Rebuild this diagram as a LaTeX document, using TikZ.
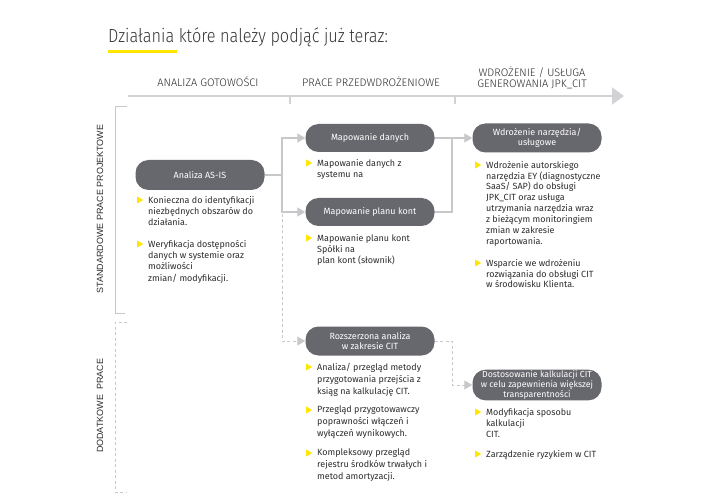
\documentclass[tikz,border=0pt]{standalone}
\usepackage{fontspec}
\setmainfont{Fira Sans}
\newfontfamily\thinfont{Fira Sans Light}[FakeStretch=0.86]
\newfontfamily\hdrfont{Fira Sans Light}
\newfontfamily\sidefont{Liberation Sans}
\usepackage{tikz}
\usetikzlibrary{shapes.geometric, arrows.meta}
\definecolor{boxgray}{RGB}{103,103,110}
\definecolor{linegray}{RGB}{200,200,202}
\definecolor{axisgray}{RGB}{210,210,212}
\definecolor{textgray}{RGB}{45,45,48}
\definecolor{titlegray}{RGB}{55,55,58}
\definecolor{eyyellow}{RGB}{255,230,0}
\tikzset{
	stage/.style={rectangle, rounded corners=13bp, minimum width=129bp, minimum height=29bp, text centered, align=center, fill=boxgray, text=white, inner sep=1bp, font=\fontsize{9}{10}\selectfont},
	bullet/.style={anchor=north west, align=left, inner sep=0pt, text=textgray, font=\fontsize{9}{11.3}\selectfont},
	ymark/.style={isosceles triangle, isosceles triangle stretches, minimum width=7bp, minimum height=6bp, inner sep=0pt, fill=eyyellow, anchor=west},
	phase/.style={align=center, inner sep=0pt, text=textgray, font=\hdrfont\fontsize{11}{11.5}\selectfont},
	side/.style={rotate=90, inner sep=0pt, text=textgray, font=\sidefont\fontsize{9}{11}\selectfont},
	link/.style={line width=1.3bp, draw=linegray},
	arrow/.style={link, -{Triangle[length=8bp, width=9bp]}},
	dasharrow/.style={arrow, line width=0.9bp, dash pattern=on 3bp off 2.5bp}
}

\begin{document}
\begin{tikzpicture}[x=1bp, y=-1bp]
	\useasboundingbox[fill=white] (0,0) rectangle (720,500);
	
	% Title and time axis
	\node (title) [anchor=base west, inner sep=0pt, text=titlegray, font=\thinfont\fontsize{19}{21}\selectfont] at (108,43) {Działania które należy podjąć już teraz:};
	\draw [eyyellow, line width=3bp] (108,52) -- (177,52);
	\node (ph1) [phase, anchor=base] at (208,87) {ANALIZA GOTOWOŚCI};
	\node (ph2) [phase, anchor=base] at (371,87) {PRACE PRZEDWDROŻENIOWE};
	\node (ph3) [phase] at (532,78) {WDROŻENIE / USŁUGA\\GENEROWANIA JPK\_CIT};
	\coordinate (axis0) at (128,96);
	\coordinate (axis1) at (624,96);
	\draw [axisgray, line width=2bp, -{Triangle[length=12bp, width=17bp]}] (axis0) -- (axis1);
	\draw [axisgray, line width=1.5bp] (290,96) -- (290,104);
	\draw [axisgray, line width=1.5bp] (455,96) -- (455,104);
	
	% Side groups
	\draw [linegray, line width=1bp] (127,107) -- (115,107) -- (115,313) -- (125,313);
	\draw [linegray, line width=1bp, dash pattern=on 3bp off 2.5bp] (127,322) -- (115,322) -- (115,492) -- (127,492);
	\node (std) [side] at (100,209) {STANDARDOWE PRACE PROJEKTOWE};
	\node (dod) [side] at (100,406) {DODATKOWE~~PRACE};
	
	% Nodes
	\node (asis) [stage, minimum height=30bp] at (200,175) {Analiza AS-IS};
	\node (mapdan) [stage, minimum height=28bp] at (370,138) {Mapowanie danych};
	\node (mapplan) [stage, minimum height=28bp] at (370,212) {Mapowanie planu kont};
	\node (rozsz) [stage] at (370,341) {Rozszerzona analiza\\w zakresie CIT};
	\node (wdroz) [stage] at (537,138) {Wdrożenie narzędzia/\\usługowe};
	\node (dostos) [stage, minimum height=27bp, font=\fontsize{8.8}{10}\selectfont] at (537,385) {Dostosowanie kalkulacji CIT\\w celu zapewnienia większej\\transparentności};
	
	% Bullets
	\node (asis1) [bullet] at (148,196) {Konieczna do identyfikacji\\niezbędnych obszarów do\\działania.};
	\node (asis2) [bullet] at (148,240) {Weryfikacja dostępności\\danych w systemie oraz\\możliwości\\zmian/ modyfikacji.};
	\node (mapdan1) [bullet] at (317,159) {Mapowanie danych z\\systemu na};
	\node (mapplan1) [bullet] at (317,234) {Mapowanie planu kont\\Spółki na\\plan kont (słownik)};
	\node (wdroz1) [bullet, font=\fontsize{9}{10.9}\selectfont] at (486,161) {Wdrożenie autorskiego\\narzędzia EY (diagnostyczne\\SaaS/ SAP) do obsługi\\JPK\_CIT oraz usługa\\utrzymania narzędzia wraz\\z bieżącym monitoringiem\\zmian w zakresie\\raportowania.};
	\node (wdroz2) [bullet, font=\fontsize{9}{10.9}\selectfont] at (486,259) {Wsparcie we wdrożeniu\\rozwiązania do obsługi CIT\\w środowisku Klienta.};
	\node (rozsz1) [bullet, font=\fontsize{9}{12}\selectfont] at (317,363) {Analiza/ przegląd metody\\przygotowania przejścia z\\ksiąg na kalkulację CIT.};
	\node (rozsz2) [bullet, font=\fontsize{9}{12}\selectfont] at (317,406) {Przegląd przygotowawczy\\poprawności włączeń i\\wyłączeń wynikowych.};
	\node (rozsz3) [bullet, font=\fontsize{9}{12}\selectfont] at (317,449) {Kompleksowy przegląd\\rejestru środków trwałych i\\metod amortyzacji.};
	\node (dostos1) [bullet] at (486,408) {Modyfikacja sposobu\\kalkulacji\\CIT.};
	\node (dostos2) [bullet] at (486,450) {Zarządzenie ryzykiem w CIT};
	\foreach \b in {asis1,asis2,mapdan1,mapplan1,wdroz1,wdroz2,rozsz1,rozsz2,rozsz3,dostos1,dostos2}
		\node (mk-\b) [ymark] at ([xshift=-11bp, yshift=-4bp]\b.north west) {};
	
	% Arrows
	\coordinate (fork) at (282,175);
	\coordinate (forkdash) at (282,214);
	\coordinate (join) at (452,138);
	\coordinate (joindash) at (452,341);
	\draw [link] (asis.east) -- (fork);
	\draw [arrow] (fork) |- (mapdan.west);
	\draw [arrow] (fork) |- (mapplan.west);
	\draw [dasharrow] (forkdash) |- (rozsz.west);
	\draw [link] (mapdan.east) -- (join);
	\draw [link] (mapplan.east) -| (join);
	\draw [arrow] (join) -- (wdroz.west);
	\draw [dasharrow] (rozsz.east) -- (joindash) |- (dostos.west);
	
\end{tikzpicture}
\end{document}
